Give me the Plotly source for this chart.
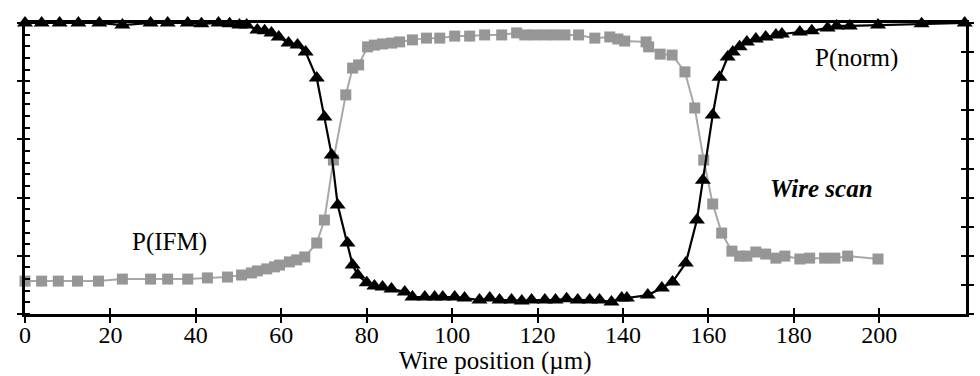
import plotly.graph_objects as go

# Wire position (um) and normalized signals
norm_x = [0, 3.9, 8.1, 12.5, 17.4, 22.8, 29.4, 33.4, 38.1, 41.3, 45.3, 47.9, 50.2, 51.9,
          54.4, 56.1, 57.7, 59.4, 61.7, 63.8, 65.7, 68.3, 70.1, 71.8, 73.2, 75.5, 76.7,
          77.9, 80.0, 81.8, 83.7, 85.8, 88.9, 90.7, 93.6, 95.9, 97.8, 100.6, 102.9, 106.4,
          108.8, 111.1, 113.9, 116.3, 118.6, 121.7, 124.2, 126.8, 129.4, 132.2, 134.5,
          137.3, 139.7, 140.9, 145.8, 149.1, 151.6, 154.7, 157.3, 158.7, 161.0, 162.6,
          164.5, 165.7, 167.3, 169.0, 171.1, 173.4, 175.8, 177.2, 181.4, 184.2, 187.9,
          190.0, 193.1, 199.7, 209.9, 220.0]
norm_y = [1.0, 1.0, 1.0, 1.0, 1.0, 0.993, 1.0, 1.0, 1.0, 0.997, 1.0, 0.997, 0.993, 0.993,
          0.976, 0.973, 0.966, 0.952, 0.931, 0.924, 0.900, 0.811, 0.677, 0.546, 0.375, 0.244,
          0.168, 0.134, 0.107, 0.096, 0.093, 0.086, 0.076, 0.058, 0.058, 0.058, 0.058, 0.058,
          0.055, 0.048, 0.055, 0.048, 0.048, 0.045, 0.048, 0.048, 0.048, 0.052, 0.048, 0.048,
          0.048, 0.041, 0.055, 0.055, 0.065, 0.089, 0.110, 0.175, 0.323, 0.460, 0.684, 0.814,
          0.883, 0.900, 0.918, 0.935, 0.945, 0.952, 0.959, 0.962, 0.969, 0.973, 0.983, 0.990,
          0.990, 0.993, 0.997, 1.0]

ifm_x = [0, 3.9, 7.8, 12.3, 17.2, 22.8, 29.4, 33.4, 38.1, 42.7, 47.4, 50.7, 53.0, 54.4,
         56.6, 58.4, 59.6, 61.9, 63.6, 65.5, 68.3, 70.1, 72.2, 75.1, 76.7, 78.1, 80.2, 81.8,
         83.7, 85.8, 87.7, 90.7, 94.0, 97.1, 100.6, 104.1, 107.6, 111.6, 115.1, 117.0, 119.3,
         121.7, 124.0, 126.4, 129.6, 133.4, 136.9, 138.8, 140.4, 145.4, 146.0, 148.7, 151.5,
         154.5, 156.8, 158.9, 161.0, 163.1, 165.5, 167.3, 169.0, 171.1, 173.4, 175.8, 177.9,
         181.4, 183.7, 187.2, 189.6, 192.6, 199.7]
ifm_y = [0.113, 0.113, 0.113, 0.113, 0.113, 0.120, 0.120, 0.120, 0.120, 0.124, 0.127, 0.134,
         0.141, 0.148, 0.155, 0.162, 0.168, 0.179, 0.186, 0.196, 0.244, 0.323, 0.529, 0.753,
         0.845, 0.856, 0.918, 0.924, 0.928, 0.931, 0.935, 0.942, 0.948, 0.948, 0.955, 0.955,
         0.959, 0.959, 0.966, 0.959, 0.959, 0.959, 0.959, 0.959, 0.959, 0.948, 0.952, 0.945,
         0.938, 0.935, 0.918, 0.893, 0.890, 0.832, 0.708, 0.529, 0.378, 0.278, 0.216, 0.199,
         0.199, 0.213, 0.206, 0.192, 0.199, 0.189, 0.192, 0.192, 0.192, 0.199, 0.189]

x_ticks = [0, 20, 40, 60, 80, 100, 120, 140, 160, 180, 200]
y_major = [0, 0.2, 0.4, 0.6, 0.8, 1.0]

FONT = "Liberation Serif"
XR = [0, 220.3]
YR = [0, 1]

fig = go.Figure()
fig.add_trace(go.Scatter(x=ifm_x, y=ifm_y, mode="lines+markers", cliponaxis=False,
                         line=dict(color="#a8a8a8", width=2),
                         marker=dict(symbol="square", size=11, color="#969696"),
                         showlegend=False))
fig.add_trace(go.Scatter(x=norm_x, y=norm_y, mode="lines+markers", cliponaxis=False,
                         line=dict(color="black", width=2.2),
                         marker=dict(symbol="triangle-up", size=14, color="black"),
                         showlegend=False))
# empty traces so that overlay axes render
for xa, ya in [("x2", "y"), ("x", "y2"), ("x", "y3"), ("x", "y4")]:
    fig.add_trace(go.Scatter(x=[None], y=[None], xaxis=xa, yaxis=ya, showlegend=False,
                             hoverinfo="skip"))

common = dict(showgrid=False, zeroline=False, automargin=False, tickcolor="black",
              tickwidth=2)

fig.update_layout(
    width=980, height=376,
    margin=dict(l=25, r=14, t=23, b=62, autoexpand=False),
    plot_bgcolor="white", paper_bgcolor="white",
    font=dict(family=FONT, color="black", size=24),
    xaxis=dict(range=XR, tickvals=x_ticks, ticks="outside", ticklen=6,
               ticklabelstandoff=-9,
               showline=True, linewidth=2.5, linecolor="black", mirror=True,
               tickfont=dict(family=FONT, size=24, color="black"), **common),
    xaxis2=dict(range=XR, overlaying="x", anchor="y", side="bottom", tickvals=x_ticks,
                ticks="inside", ticklen=6, showticklabels=False, showline=False, **common),
    yaxis=dict(range=YR, tickvals=y_major, ticks="outside", ticklen=5,
               showticklabels=False, showline=True, linewidth=2.5, linecolor="black",
               minor=dict(dtick=0.04, ticks="inside", ticklen=5, tickwidth=2,
                          tickcolor="black", showgrid=False), **common),
    yaxis3=dict(range=YR, overlaying="y", side="left", anchor="x", tickvals=y_major,
                ticks="inside", ticklen=5, showticklabels=False, showline=False, **common),
    yaxis2=dict(range=YR, overlaying="y", side="right", anchor="x", dtick=0.1, tick0=0,
                ticks="outside", ticklen=5, showticklabels=False, showline=True,
                linewidth=2.5, linecolor="black", **common),
    yaxis4=dict(range=YR, overlaying="y", side="right", anchor="x", dtick=0.1, tick0=0,
                ticks="inside", ticklen=5, showticklabels=False, showline=False, **common),
    annotations=[
        dict(x=194.7, y=0.88, xref="x", yref="y", text="P(norm)", showarrow=False,
             font=dict(family=FONT, size=25)),
        dict(x=186.5, y=0.433, xref="x", yref="y", text="<b><i>Wire scan</i></b>",
             showarrow=False, font=dict(family=FONT, size=25)),
        dict(x=33.8, y=0.247, xref="x", yref="y", text="P(IFM)", showarrow=False,
             font=dict(family=FONT, size=25)),
        dict(x=0.5, y=-0.16, xref="x domain", yref="paper", text="Wire position (µm)",
             showarrow=False, yanchor="middle", font=dict(family=FONT, size=25)),
    ],
)

fig.write_html("out.html", config={"displayModeBar": False},
               post_script="document.body.style.margin='0';"
                           "document.body.style.overflow='hidden';")
